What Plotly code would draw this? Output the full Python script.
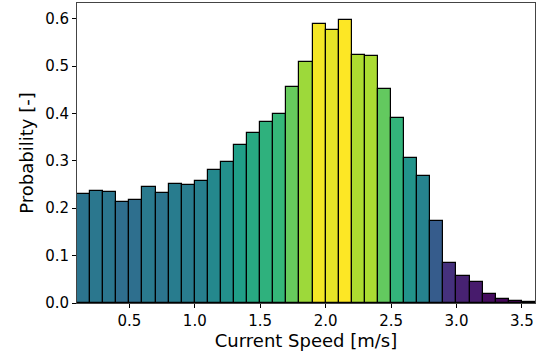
import numpy as np
import plotly.graph_objects as go
from plotly.colors import sample_colorscale

bin_left_edges = [round(0.1 + 0.1 * i, 2) for i in range(35)]
bin_width = 0.1
probability = [0.230, 0.237, 0.235, 0.214, 0.217, 0.244, 0.232, 0.251, 0.250, 0.257,
               0.280, 0.298, 0.334, 0.359, 0.381, 0.398, 0.456, 0.508, 0.589, 0.577,
               0.597, 0.523, 0.521, 0.451, 0.391, 0.307, 0.267, 0.173, 0.084, 0.056,
               0.045, 0.0195, 0.0084, 0.004, 0.002]
x_ticks = [0.5, 1.0, 1.5, 2.0, 2.5, 3.0, 3.5]
y_ticks = [0.0, 0.1, 0.2, 0.3, 0.4, 0.5, 0.6]

p = np.array(probability)
colors = sample_colorscale('Viridis', list(p / p.max()))
centers = [e + bin_width / 2 for e in bin_left_edges]

fig = go.Figure(go.Bar(
    x=centers, y=probability, width=bin_width,
    marker=dict(color=colors, line=dict(color='black', width=1.2)),
))

font = "DejaVu Sans"
fig.update_layout(
    width=552, height=355,
    margin=dict(l=77, r=17, t=3, b=52),
    paper_bgcolor='white', plot_bgcolor='white',
    bargap=0, showlegend=False,
    font=dict(family=font, color='black', size=15),
)
fig.update_xaxes(
    range=[0.1, 3.6], tickvals=x_ticks, tickformat='.1f',
    ticks='outside', ticklen=4, tickwidth=1, tickcolor='black',
    showline=True, linecolor='#444', linewidth=1, mirror=True,
    showgrid=False, zeroline=False,
    tickfont=dict(size=15, family=font),
    title=dict(text='Current Speed [m/s]', font=dict(size=18, family=font), standoff=3),
)
fig.update_yaxes(
    range=[0, 0.633], tickvals=y_ticks, tickformat='.1f',
    ticks='outside', ticklen=4, tickwidth=1, tickcolor='black',
    showline=True, linecolor='#444', linewidth=1, mirror=True,
    showgrid=False, zeroline=False,
    tickfont=dict(size=15, family=font),
    title=dict(text='Probability [-]', font=dict(size=18, family=font), standoff=6),
)
fig.write_html("out.html")
